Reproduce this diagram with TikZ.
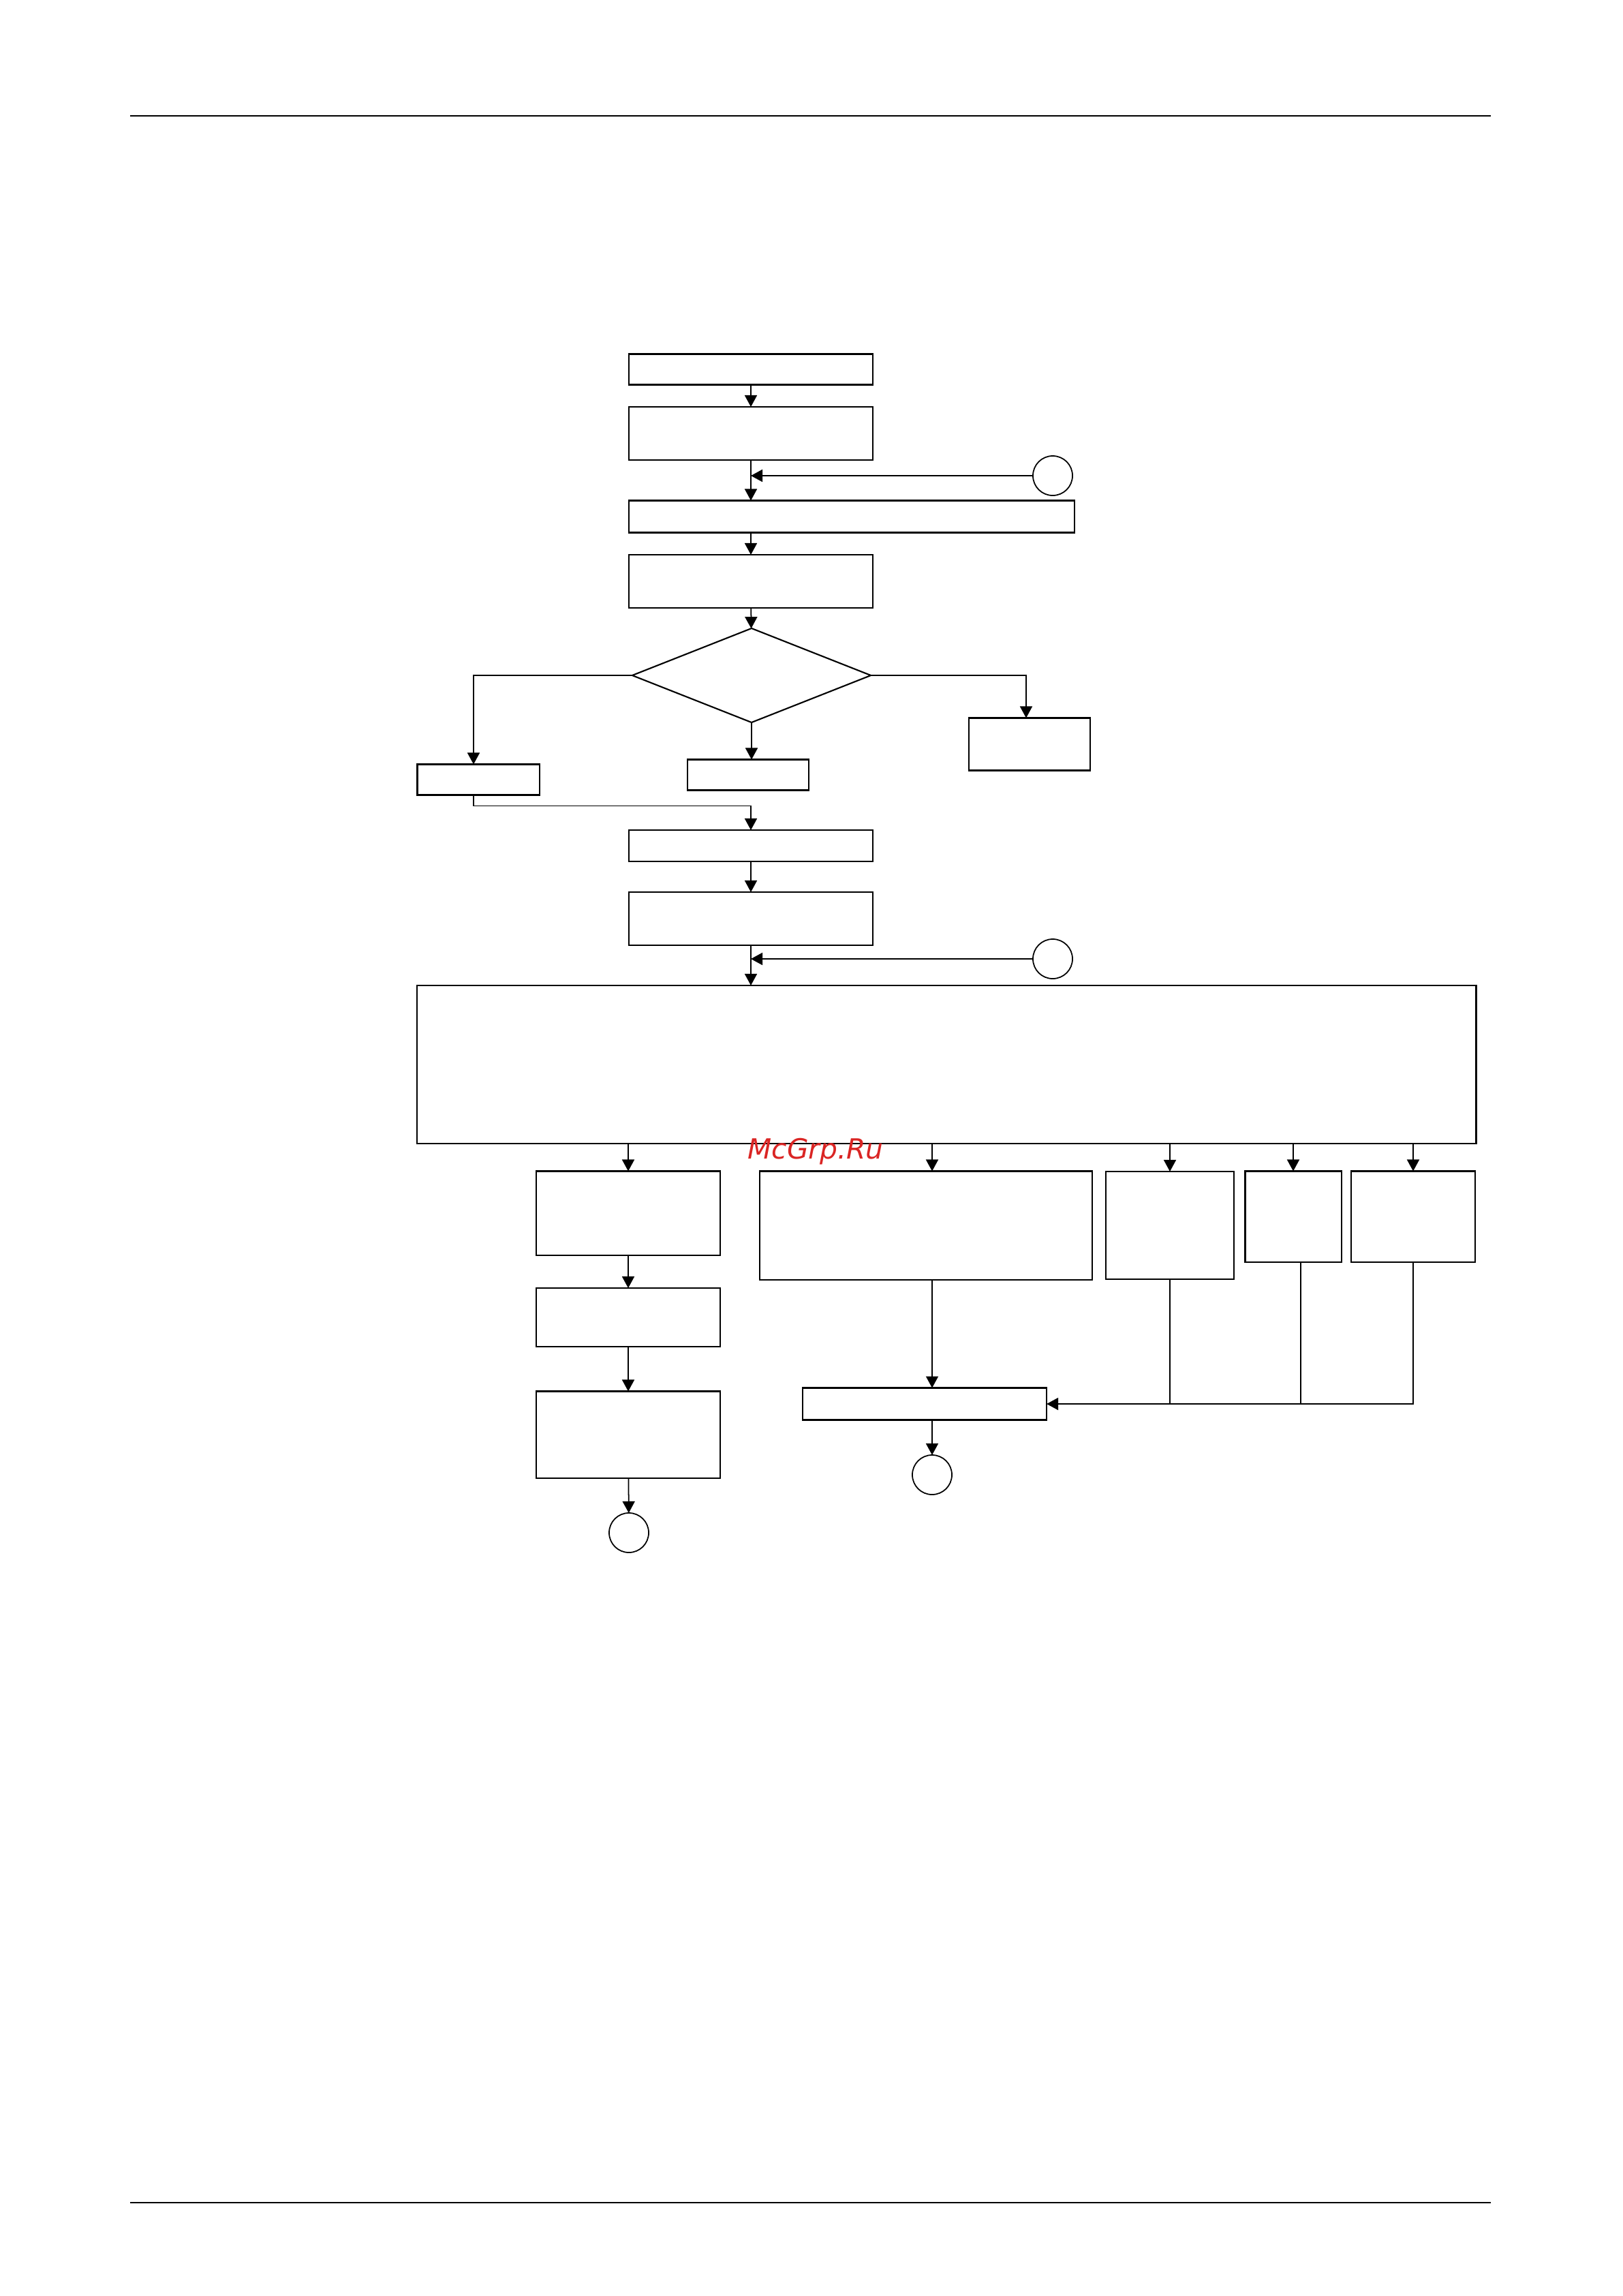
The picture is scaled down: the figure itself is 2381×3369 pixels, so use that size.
\documentclass[tikz,border=0pt]{standalone}
\usepackage{fontspec}
\usepackage{xcolor}
\usepackage{tikz}
\usetikzlibrary{positioning, arrows.meta, shapes.geometric}
\newfontfamily\wmfont{DejaVu Sans}
\definecolor{wmred}{RGB}{218,37,36}

\begin{document}
\begin{tikzpicture}[
    x=0.01cm, y=-0.01cm,
    box/.style={draw, line width=0.6pt, inner sep=0pt, outer sep=0pt},
    choice/.style={draw, diamond, line width=0.6pt, inner sep=0pt, outer sep=0pt},
    conn/.style={draw, circle, line width=0.5pt, minimum size=0.58cm, inner sep=0pt, outer sep=0pt},
    flow/.style={draw, line width=0.5pt, -{Triangle[width=0.18cm, length=0.17cm]}},
    rule/.style={draw, line width=0.6pt},
    wmark/.style={font=\wmfont\itshape\fontsize{11.6}{12}\selectfont, text=wmred, inner sep=0pt}
]
\useasboundingbox (0,0) rectangle (2381,3369);
\draw[rule] (191,170) -- (2188,170);
\draw[rule] (191,3232) -- (2188,3232);

\node[box, minimum width=3.57cm, minimum height=0.45cm] (b1) at (1102,542) {};
\node[box, minimum width=3.57cm, minimum height=0.78cm] (b2) at (1102,636) {};
\node[conn] (c1) at (1545,698) {};
\node[box, minimum width=6.53cm, minimum height=0.47cm] (b3) at (1250,758) {};
\node[box, minimum width=3.57cm, minimum height=0.78cm] (b4) at (1102,853) {};
\node[choice, minimum width=3.5cm, minimum height=1.38cm] (d) at (1103,991) {};
\node[box, minimum width=1.79cm, minimum height=0.45cm] (bl) at (702,1144) {};
\node[box, minimum width=1.78cm, minimum height=0.45cm] (bm) at (1098,1137) {};
\node[box, minimum width=1.78cm, minimum height=0.77cm] (br) at (1511,1092) {};
\node[box, minimum width=3.57cm, minimum height=0.46cm] (b5) at (1102,1241) {};
\node[box, minimum width=3.57cm, minimum height=0.78cm] (b6) at (1102,1348) {};
\node[conn] (c2) at (1545,1407) {};
\node[box, minimum width=15.54cm, minimum height=2.32cm] (big) at (1389,1562) {};

\node[box, minimum width=2.7cm, minimum height=1.23cm] (bA) at (922,1780) {};
\node[box, minimum width=2.7cm, minimum height=0.86cm] (bA2) at (922,1933) {};
\node[box, minimum width=2.7cm, minimum height=1.27cm] (bA3) at (922,2105) {};
\node[conn] (cA) at (923,2249) {};
\node[box, minimum width=4.88cm, minimum height=1.59cm] (bB) at (1359,1798) {};
\node[box, minimum width=1.88cm, minimum height=1.58cm] (bC) at (1717,1798) {};
\node[box, minimum width=1.41cm, minimum height=1.33cm] (bD) at (1898,1785) {};
\node[box, minimum width=1.82cm, minimum height=1.33cm] (bE) at (2074,1785) {};
\node[box, minimum width=3.58cm, minimum height=0.47cm] (bF) at (1357,2060) {};
\node[conn] (cF) at (1368,2164) {};

\draw[flow] (b1) -- (b2);
\draw[flow] (b2.south) -- (b2.south |- b3.north);
\draw[flow] (c1.west) -- (c1.west -| b2.south);
\draw[flow] (b2.south |- b3.south) -- (b4.north);
\draw[flow] (b4) -- (d);
\draw[flow] (d.west) -| ([xshift=-0.07cm]bl.north);
\draw[flow] (d.south) -- (d.south |- bm.north);
\draw[flow] (d.east) -| ([xshift=-0.05cm]br.north);
\draw[flow] ([xshift=-0.07cm]bl.south) -- ++(0,16) -| (b5.north);
\draw[flow] (b5) -- (b6);
\draw[flow] (b6.south) -- (b6.south |- big.north);
\draw[flow] (c2.west) -- (c2.west -| b6.south);

\draw[flow] (bA.north |- big.south) -- (bA.north);
\draw[flow] (cF |- big.south) -- (cF |- bB.north);
\draw[flow] (bC.north |- big.south) -- (bC.north);
\draw[flow] (bD.north |- big.south) -- (bD.north);
\draw[flow] (bE.north |- big.south) -- (bE.north);
\draw[flow] (bA) -- (bA2);
\draw[flow] (bA2) -- (bA3);
\draw[flow] (bA3) -- (cA);
\draw[flow] (cF |- bB.south) -- (cF |- bF.north);
\draw[flow] (cF |- bF.south) -- (cF.north);
\draw[flow] (bE.south) |- (bF.east);
\draw[line width=0.5pt] (bC.south) -- (bC.south |- bF.east);
\draw[line width=0.5pt] ([xshift=0.11cm]bD.south) -- ([xshift=0.11cm]bD.south |- bF.east);

\node[wmark, anchor=base west] (wm) at (1097,1700) {McGrp.Ru};
\end{tikzpicture}
\end{document}
